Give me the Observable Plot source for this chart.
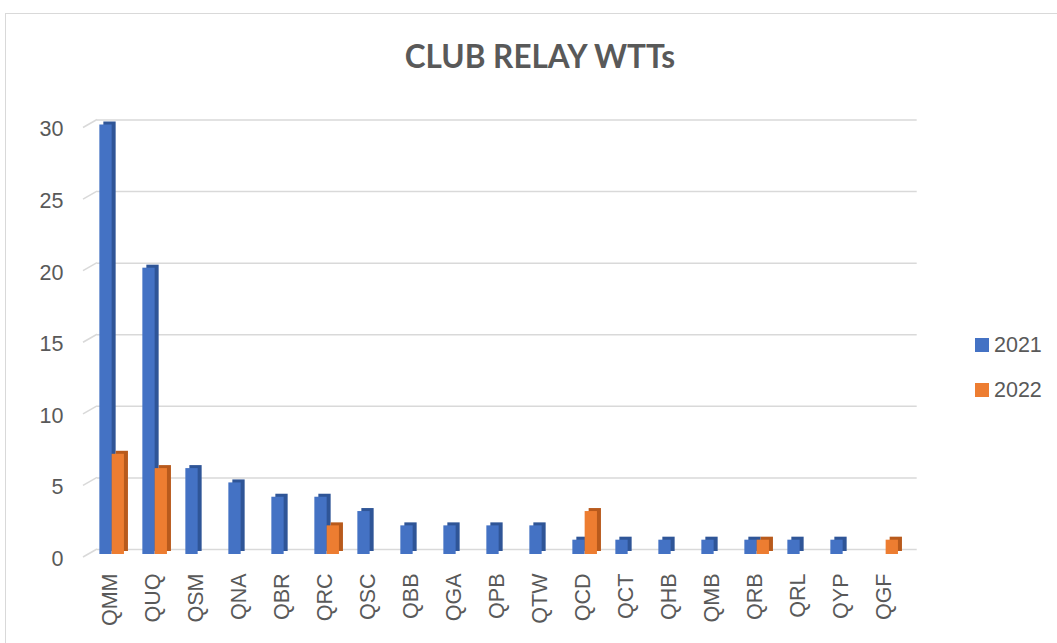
<!DOCTYPE html>
<html>
<head>
<meta charset="utf-8">
<script src="https://cdn.jsdelivr.net/npm/d3@7"></script>
<script src="https://cdn.jsdelivr.net/npm/@observablehq/plot@0.6"></script>
<style>
  html, body { margin: 0; padding: 0; background: #fff; }
  #wrap { position: relative; width: 1057px; height: 643px; overflow: hidden; }
  #frame { position: absolute; left: 5px; top: 13px; width: 1200px; height: 800px; border: 1px solid #d9d9d9; box-sizing: border-box; }
  #title { position: absolute; left: 0; width: 1080px; top: 37px; text-align: center;
           font-family: Lato, "Open Sans", sans-serif; font-weight: 700; font-size: 31.5px; color: #595959; line-height: 38px; }
  #chart { position: absolute; left: 0; top: 0; }
  .leg { position: absolute; left: 975px; font-family: "Liberation Sans", Arial, sans-serif; font-size: 21.5px; color: #595959; line-height: 24px; }
  .leg span.sw { position: absolute; left: 0; top: 5px; width: 14px; height: 14px; }
  .leg span.lb { position: absolute; left: 19px; top: 0; white-space: nowrap; }
</style>
</head>
<body>
<div id="wrap">
  <div id="frame"></div>
  <div id="title">CLUB RELAY WTTs</div>
  <div id="chart"></div>
  <div class="leg" style="top:333px"><span class="sw" style="background:#4472C4"></span><span class="lb">2021</span></div>
  <div class="leg" style="top:378px"><span class="sw" style="background:#ED7D31"></span><span class="lb">2022</span></div>
</div>
<script>
const categories = ["QMM","QUQ","QSM","QNA","QBR","QRC","QSC","QBB","QGA","QPB","QTW","QCD","QCT","QHB","QMB","QRB","QRL","QYP","QGF"];
const values2021 = [30, 20, 6, 5, 4, 4, 3, 2, 2, 2, 2, 1, 1, 1, 1, 1, 1, 1, 0];
const values2022 = [7, 6, 0, 0, 0, 2, 0, 0, 0, 0, 0, 3, 0, 0, 0, 1, 0, 0, 1];
const yTicks = [0, 5, 10, 15, 20, 25, 30];

const d21 = categories.map((c, i) => ({cat: c, v: values2021[i]})).filter(d => d.v > 0);
const d22 = categories.map((c, i) => ({cat: c, v: values2022[i]})).filter(d => d.v > 0);

const inset = 15.35;
const font = '"Liberation Sans", Arial, sans-serif';

function slants(index, scales, values, dim) {
  const g = d3.create("svg:g");
  for (const t of yTicks) {
    const y = scales.y(t);
    g.append("line")
      .attr("x1", dim.marginLeft - 3).attr("y1", y + 3)
      .attr("x2", dim.marginLeft + 11).attr("y2", y - 5)
      .attr("stroke", "#d9d9d9").attr("stroke-width", 1.5);
  }
  return g.node();
}

const chart = Plot.plot({
  width: 1057,
  height: 643,
  marginLeft: 86,
  marginRight: 150.3,
  marginTop: 124.5,
  marginBottom: 89,
  style: {fontFamily: font, fontSize: "21.5px", color: "#595959", background: "transparent"},
  x: {type: "band", domain: categories, padding: 0, label: null},
  y: {domain: [0, 30], label: null},
  marks: [
    Plot.ruleY(yTicks, {stroke: "#d9d9d9", strokeWidth: 1.5, dy: -5, insetLeft: 11, insetRight: -10}),
    slants,
    Plot.axisY({ticks: yTicks, tickSize: 0, tickPadding: 23, dy: 4.5, label: null, fontSize: "21.5px", fill: "#595959"}),
    Plot.axisX({tickSize: 0, tickPadding: 19, tickRotate: -90, label: null, fontSize: "21.5px", fill: "#595959"}),
    // 2021 side/top faces
    Plot.barY(d21, {x: "cat", y: "v", fill: "#2F5597", insetLeft: inset, insetRight: inset, dx: 0, dy: -3}),
    Plot.barY(d21, {x: "cat", y: "v", fill: "#4472C4", insetLeft: inset, insetRight: inset, dx: -4}),
    // 2022 side/top faces
    Plot.barY(d22, {x: "cat", y: "v", fill: "#B85A1C", insetLeft: inset, insetRight: inset, dx: 12.3, dy: -3}),
    Plot.barY(d22, {x: "cat", y: "v", fill: "#ED7D31", insetLeft: inset, insetRight: inset, dx: 8.3})
  ]
});
document.getElementById("chart").appendChild(chart);
</script>
</body>
</html>
